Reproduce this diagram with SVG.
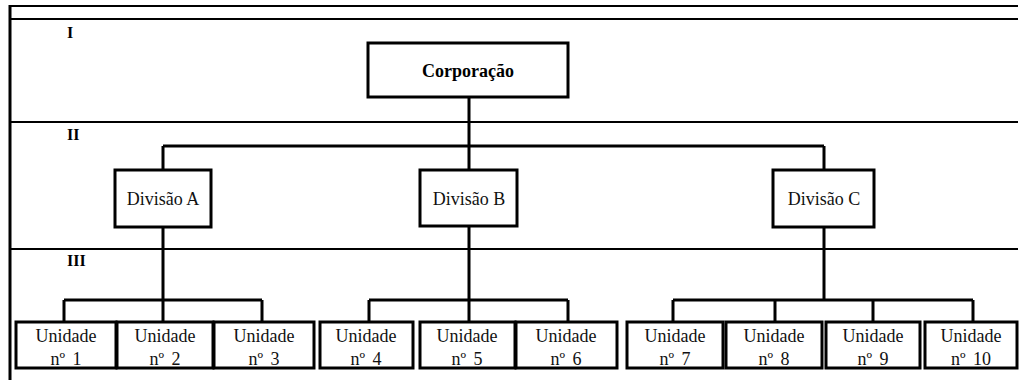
<svg xmlns="http://www.w3.org/2000/svg" width="1020" height="382" viewBox="0 0 1020 382">
<style>
.bg{fill:#fff}
.band{stroke:#000;stroke-width:2;fill:none}
.frame{stroke:#000;stroke-width:3;fill:none}
.box{fill:#fff;stroke:#000;stroke-width:3}
.conn{stroke:#000;stroke-width:3;fill:none}
.lvl{font-family:"Liberation Serif","Times New Roman",serif;font-weight:bold;font-size:16px;fill:#000}
.t{font-family:"Liberation Serif","Times New Roman",serif;font-size:18px;fill:#111;text-anchor:middle}
.tb{font-family:"Liberation Serif","Times New Roman",serif;font-weight:bold;font-size:18px;fill:#000;text-anchor:middle}
.u{font-family:"Liberation Serif","Times New Roman",serif;font-size:18px;fill:#111;text-anchor:middle}
.n{font-family:"Liberation Serif","Times New Roman",serif;font-size:18px;fill:#111;text-anchor:middle;word-spacing:3px}
</style>
<rect class="bg" x="0" y="0" width="1020" height="382"/>
<g id="bands">
<line class="band" x1="10" y1="6" x2="1018" y2="6"/>
<line class="band" x1="10" y1="19" x2="1018" y2="19"/>
<line class="band" x1="10" y1="122" x2="1018" y2="122"/>
<line class="band" x1="10" y1="249" x2="1018" y2="249"/>
<line class="frame" x1="10" y1="5" x2="10" y2="380"/>
<text class="lvl" x="67" y="38">I</text>
<text class="lvl" x="67" y="140">II</text>
<text class="lvl" x="67" y="266">III</text>
</g>
<g id="connectors">
<path class="conn" d="M469,97 V146 M163,146 H824 M163,146 V170 M469,146 V170 M824,146 V170"/>
<path class="conn" d="M163,227 V300 M64,300 H262 M64,300 V322 M163,300 V322 M262,300 V322"/>
<path class="conn" d="M469,226 V300 M369,300 H568 M369,300 V322 M469,300 V322 M568,300 V322"/>
<path class="conn" d="M824,227 V300 M673,300 H973 M673,300 V322 M775,300 V322 M873,300 V322 M973,300 V322"/>
</g>
<g id="corporacao">
<rect class="box" x="368" y="43" width="200" height="54"/>
<text class="tb" x="468" y="77">Corporação</text>
</g>
<g id="divisao-a">
<rect class="box" x="115" y="170" width="96" height="57"/>
<text class="t" x="163" y="205">Divisão A</text>
</g>
<g id="divisao-b">
<rect class="box" x="420" y="170" width="97" height="56"/>
<text class="t" x="469" y="205">Divisão B</text>
</g>
<g id="divisao-c">
<rect class="box" x="773" y="170" width="101" height="57"/>
<text class="t" x="824" y="205">Divisão C</text>
</g>
<g id="unidade-1"><rect class="box" x="16" y="322" width="100" height="46"/><text class="u" x="66" y="342">Unidade</text><text class="n" x="66" y="365">nº 1</text></g>
<g id="unidade-2"><rect class="box" x="117" y="322" width="96" height="46"/><text class="u" x="165" y="342">Unidade</text><text class="n" x="165" y="365">nº 2</text></g>
<g id="unidade-3"><rect class="box" x="214" y="322" width="100" height="46"/><text class="u" x="264" y="342">Unidade</text><text class="n" x="264" y="365">nº 3</text></g>
<g id="unidade-4"><rect class="box" x="320" y="322" width="93" height="46"/><text class="u" x="366" y="342">Unidade</text><text class="n" x="366" y="365">nº 4</text></g>
<g id="unidade-5"><rect class="box" x="420" y="322" width="95" height="46"/><text class="u" x="467" y="342">Unidade</text><text class="n" x="467" y="365">nº 5</text></g>
<g id="unidade-6"><rect class="box" x="516" y="322" width="101" height="46"/><text class="u" x="566" y="342">Unidade</text><text class="n" x="566" y="365">nº 6</text></g>
<g id="unidade-7"><rect class="box" x="627" y="322" width="96" height="46"/><text class="u" x="675" y="342">Unidade</text><text class="n" x="675" y="365">nº 7</text></g>
<g id="unidade-8"><rect class="box" x="726" y="322" width="96" height="46"/><text class="u" x="774" y="342">Unidade</text><text class="n" x="774" y="365">nº 8</text></g>
<g id="unidade-9"><rect class="box" x="826" y="322" width="94" height="46"/><text class="u" x="873" y="342">Unidade</text><text class="n" x="873" y="365">nº 9</text></g>
<g id="unidade-10"><rect class="box" x="925" y="322" width="92" height="46"/><text class="u" x="971" y="342">Unidade</text><text class="n" x="971" y="365">nº 10</text></g>
</svg>
